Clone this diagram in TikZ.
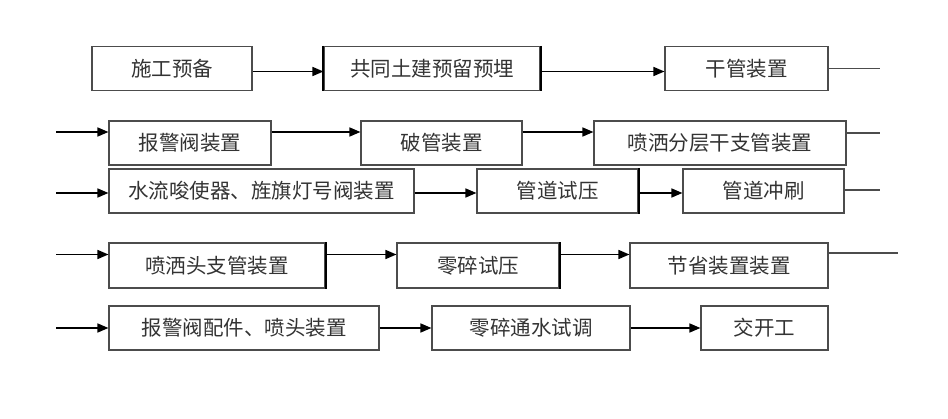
\documentclass[tikz,border=0pt]{standalone}
\usepackage{fontspec}
\setmainfont{Noto Sans CJK SC}
\usepackage{tikz}
\usetikzlibrary{arrows.meta,calc,positioning}

\begin{document}
\begin{tikzpicture}[x=1pt,y=-1pt,
box/.style={draw=black!70,line width=1.1pt,inner sep=0pt,minimum height=44pt,text=black!80,font=\fontsize{20.5}{21}\selectfont},
arr/.style={line width=1.5pt,-{Triangle[length=11pt,width=9pt]}},
lin/.style={line width=1.1pt,black!70},
heavy/.style={line width=2pt,black}]
\useasboundingbox (0,0) rectangle (948,419);
% row 1
\node[box,minimum width=160pt] (sgyb) at (172,68.5) {施工预备};
\node[box,minimum width=216pt] (ytmy) at (432,68.5) {共同土建预留预埋};
\node[box,minimum width=163pt] (ggzz) at (746.5,68.5) {干管装置};
\coordinate (out1) at (880,68.5);
% row 2
\coordinate (in2) at (56,132);
\node[box,minimum width=162pt] (bjfz) at (190,143) {报警阀装置};
\node[box,minimum width=161pt] (pgzz) at (441.5,143) {破管装置};
\node[box,minimum width=252pt] (pszz) at (720,143) {喷洒分层干支管装置};
\coordinate (out2) at (880,133);
% row 3
\coordinate (in3) at (56,193);
\node[box,minimum width=305pt] (slzz) at (261.5,191) {水流唆使器、旌旗灯号阀装置};
\node[box,minimum width=161pt] (gdsy) at (557.5,191) {管道试压};
\node[box,minimum width=161pt] (gdcs) at (763.5,191) {管道冲刷};
\coordinate (out3) at (880,190);
% row 4
\coordinate (in4) at (56,254.5);
\node[box,minimum width=216pt,minimum height=45pt] (pstz) at (217,265.5) {喷洒头支管装置};
\node[box,minimum width=162pt,minimum height=45pt] (lssy) at (478,265.5) {零碎试压};
\node[box,minimum width=198pt,minimum height=45pt] (jszz) at (729,265.5) {节省装置装置};
\coordinate (out4) at (898,253);
% row 5
\coordinate (in5) at (56,328);
\node[box,minimum width=270pt] (bjpj) at (244,328) {报警阀配件、喷头装置};
\node[box,minimum width=198pt] (lsts) at (531,328) {零碎通水试调};
\node[box,minimum width=127pt] (jkg) at (764.5,328) {交开工};

\draw[arr] ([yshift=-3pt]sgyb.east) -- ([yshift=-3pt]ytmy.west);
\draw[arr] ([yshift=-3pt]ytmy.east) -- ([yshift=-3pt]ggzz.west);
\draw[lin] (ggzz.east) -- (out1);

\draw[arr] (in2) -- (in2 -| bjfz.west);
\draw[arr] ([yshift=11pt]bjfz.east) -- ([yshift=11pt]pgzz.west);
\draw[arr] ([yshift=11pt]pgzz.east) -- ([yshift=11pt]pszz.west);
\draw[lin] (out2 -| pszz.east) -- (out2);

\draw[arr] (in3) -- (in3 -| slzz.west);
\draw[arr] ([yshift=-2pt]slzz.east) -- ([yshift=-2pt]gdsy.west);
\draw[arr] ([yshift=-2pt]gdsy.east) -- ([yshift=-2pt]gdcs.west);
\draw[lin] (out3 -| gdcs.east) -- (out3);

\draw[arr] (in4) -- (in4 -| pstz.west);
\draw[arr] ([yshift=11pt]pstz.east) -- ([yshift=11pt]lssy.west);
\draw[arr] ([yshift=11pt]lssy.east) -- ([yshift=11pt]jszz.west);
\draw[lin] (out4 -| jszz.east) -- (out4);

\draw[arr] (in5) -- (bjpj.west);
\draw[arr] (bjpj.east) -- (lsts.west);
\draw[arr] (lsts.east) -- (jkg.west);

% heavier edges
\draw[heavy] (ytmy.north west) -- (ytmy.south west);
\draw[heavy] (ytmy.north east) -- (ytmy.south east);
\draw[heavy] (gdsy.north east) -- (gdsy.south east);
\draw[heavy] (pstz.north east) -- (pstz.south east);
\draw[heavy] (lssy.north east) -- (lssy.south east);
\end{tikzpicture}
\end{document}
